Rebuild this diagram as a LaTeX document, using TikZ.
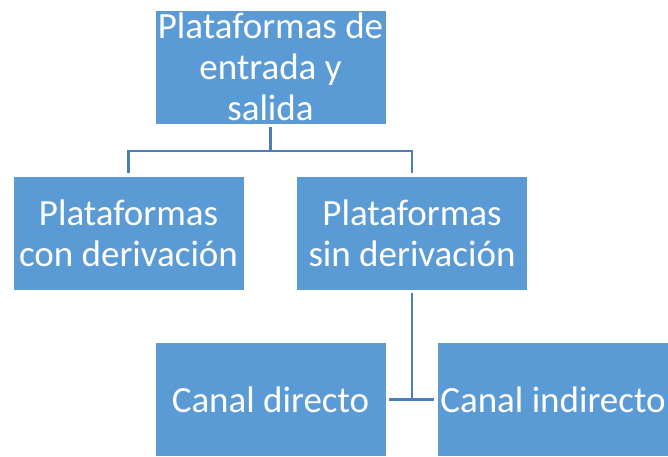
\documentclass[tikz,border=0pt]{standalone}
\usepackage{fontspec}
\setmainfont{Carlito}
\definecolor{cajaazul}{HTML}{5B9BD5}
\definecolor{lineaazul}{HTML}{4A7EBB}

\begin{document}
\begin{tikzpicture}[x=1pt, y=-1pt,
	caja/.style={fill=cajaazul, draw=white, line width=0.8pt, text=white, minimum width=231pt, minimum height=114pt, align=center, inner sep=0pt, font=\fontsize{37}{41}\selectfont},
	linea/.style={draw=lineaazul, line width=2.6pt}]
	\useasboundingbox (0,0) rectangle (668,456);

	\node[caja] (entrada) at (270.5,67) {Plataformas de\\entrada y\\salida};
	\node[caja] (con) at (128.5,233) {Plataformas\\con derivación};
	\node[caja] (sin) at (412,233) {Plataformas\\sin derivación};
	\node[caja] (directo) at (270.5,399.5) {Canal directo};
	\node[caja] (indirecto) at (553,399.5) {Canal indirecto};

	\coordinate (rama) at (270.5,151);
	\coordinate (union) at (412,400);

	\draw[linea] ([yshift=-3pt]entrada.south) -- (rama);
	\draw[linea] ([yshift=3pt]con.north) |- (rama) -| ([yshift=3pt]sin.north);
	\draw[linea] ([yshift=-3pt]sin.south) -- (union);
	\draw[linea] ([xshift=3pt]directo.east) -- ([xshift=-3pt]indirecto.west);
\end{tikzpicture}
\end{document}
